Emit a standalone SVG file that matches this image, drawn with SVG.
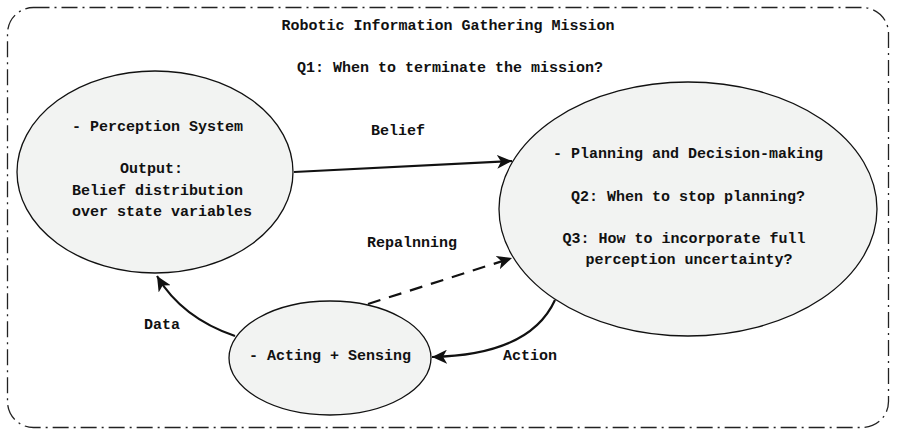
<svg xmlns="http://www.w3.org/2000/svg" width="898" height="437" viewBox="0 0 898 437">
<style>
text{font-family:"Liberation Mono","Courier New",monospace;font-weight:bold;font-size:15px;fill:#111}
.node{fill:#f2f3f2;stroke:#111;stroke-width:1.3}
.edge{fill:none;stroke:#111;stroke-width:2.2}
.c{text-anchor:middle}
</style>
<defs>
<marker id="arr" markerWidth="16" markerHeight="14" refX="15" refY="7" orient="auto" markerUnits="userSpaceOnUse">
<path d="M0,0 L15,7 L0,14 L4,7 Z" fill="#111"/>
</marker>
</defs>
<rect x="7.5" y="7.5" width="881" height="420" rx="26" fill="#fff" stroke="#222" stroke-width="1.3" stroke-dasharray="16 5 2 5"/>
<text class="c" x="448" y="30">Robotic Information Gathering Mission</text>
<text class="c" x="450" y="72">Q1: When to terminate the mission?</text>
<g id="edges">
<path class="edge" d="M294,172 L512,161" marker-end="url(#arr)"/>
<path class="edge" d="M368,304 L512,258" stroke-dasharray="13 9" marker-end="url(#arr)"/>
<path class="edge" d="M235,336 Q182,318 157,276" marker-end="url(#arr)"/>
<path class="edge" d="M555,300 Q530,355 432,357" marker-end="url(#arr)"/>
<text class="c" x="398" y="135">Belief</text>
<text class="c" x="412" y="247">Repalnning</text>
<text class="c" x="162" y="329">Data</text>
<text class="c" x="530" y="360">Action</text>
</g>
<g id="perception">
<ellipse class="node" cx="155" cy="172" rx="138" ry="101"/>
<text x="72" y="131">- Perception System</text>
<text x="120" y="173">Output:</text>
<text x="72" y="195">Belief distribution</text>
<text x="72" y="216">over state variables</text>
</g>
<g id="planning">
<ellipse class="node" cx="688" cy="209" rx="189" ry="127"/>
<text class="c" x="688" y="158">- Planning and Decision-making</text>
<text class="c" x="688" y="201">Q2: When to stop planning?</text>
<text class="c" x="684" y="243">Q3: How to incorporate full</text>
<text class="c" x="689" y="264">perception uncertainty?</text>
</g>
<g id="acting">
<ellipse class="node" cx="330" cy="358" rx="101" ry="57"/>
<text class="c" x="330" y="360">- Acting + Sensing</text>
</g>
</svg>
